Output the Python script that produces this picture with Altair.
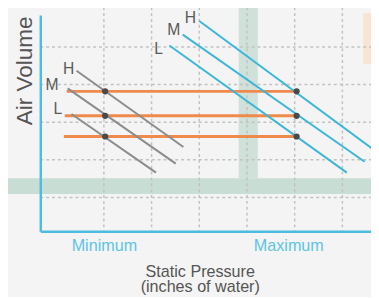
import altair as alt
import pandas as pd

# ---- data (x = static pressure units, y = air volume units)
curve_group = ["low", "low", "low", "high", "high", "high"]
curve_x1 = [0.57, 0.43, 0.49, 2.50, 2.24, 2.03]
curve_y1 = [4.27, 3.80, 3.12, 5.59, 5.23, 4.94]
curve_x2 = [2.25, 2.13, 1.82, 5.29, 5.10, 4.82]
curve_y2 = [2.24, 1.80, 1.56, 2.11, 1.85, 1.56]

level_y = [3.72, 3.07, 2.52]
level_x_start = [0.415, 0.385, 0.37]
level_x_end = [4.03, 4.03, 4.03]

point_x = [1.02, 1.02, 1.02, 4.03, 4.03, 4.03]
point_y = [3.72, 3.07, 2.52, 3.72, 3.07, 2.52]

speed_labels = ["H", "M", "L", "H", "M", "L"]
label_x = [0.446, 0.185, 0.277, 2.36, 2.10, 1.86]
label_y = [4.32, 3.88, 3.25, 5.67, 5.36, 4.84]

tick_values = [1.0, 3.9]
tick_labels = ["Minimum", "Maximum"]

grid_x = [1.0, 1.75, 2.5, 3.25, 4.0, 4.75]
grid_y = [0.9, 1.9, 2.9, 3.9, 4.9]

# decorative background bands
band_x1 = [-0.7, 3.12, -0.7, 5.08]
band_x2 = [5.4, 3.42, -0.58, 5.4]
band_y1 = [0.99, 1.41, 1.41, 4.45]
band_y2 = [1.41, 6.4, 6.4, 5.8]
band_color = ["#c8ddd3", "#cfe1d9", "#dbe8e2", "#f9e3d3"]

curves = pd.DataFrame({"g": curve_group, "x": curve_x1, "y": curve_y1, "x2": curve_x2, "y2": curve_y2})
levels = pd.DataFrame({"y": level_y, "x": level_x_start, "x2": level_x_end})
points = pd.DataFrame({"x": point_x, "y": point_y})
labels = pd.DataFrame({"t": speed_labels, "x": label_x, "y": label_y})
gx = pd.DataFrame({"x": grid_x})
gy = pd.DataFrame({"y": grid_y})
bands = pd.DataFrame({"x": band_x1, "x2": band_x2, "y": band_y1, "y2": band_y2, "c": band_color})

AXIS_BLUE = "#4dbce0"
label_expr = f"datum.value < 2 ? '{tick_labels[0]}' : '{tick_labels[1]}'"

x_axis = alt.Axis(
    values=tick_values, labelExpr=label_expr, ticks=False, tickSize=0, grid=False,
    domainColor=AXIS_BLUE, domainWidth=2.5, labelFont="Liberation Sans", labelFontSize=16.5,
    labelColor="#5ec4e6", labelPadding=7, labelFlush=False,
    titleFont="Liberation Sans", titleFontSize=16.5, titleFontWeight="normal",
    titleColor="#555555", titleLineHeight=16, titleX=163, titleY=46,
    titleBaseline="alphabetic", titleAlign="center", zindex=1,
)
y_axis = alt.Axis(
    ticks=False, tickSize=0, labels=False, grid=False, domainColor=AXIS_BLUE, domainWidth=2.5,
    titleFont="Liberation Sans", titleFontSize=23, titleFontWeight="normal", titleColor="#555555",
    titleAngle=270, titleAlign="right", titleBaseline="middle", titleX=-16, titleY=1, zindex=1,
)
xs = alt.Scale(domain=[0, 5.2], nice=False, zero=False)
ys = alt.Scale(domain=[0, 5.75], nice=False, zero=False)
XT = ["Static Pressure", "(inches of water)"]
YT = "Air Volume"


def X(f):
    return alt.X(f, type="quantitative", scale=xs, axis=x_axis, title=XT)


def Y(f):
    return alt.Y(f, type="quantitative", scale=ys, axis=y_axis, title=YT)


band_layer = alt.Chart(bands).mark_rect().encode(
    x=X("x"), x2="x2", y=Y("y"), y2="y2", color=alt.Color("c:N", scale=None)
)
vgrid = alt.Chart(gx).mark_rule(color="#c2c2c2", strokeDash=[3, 3], strokeWidth=1.5).encode(
    x=X("x"), y=alt.value(-20), y2=alt.value(221)
)
hgrid = alt.Chart(gy).mark_rule(color="#c2c2c2", strokeDash=[3, 3], strokeWidth=1.5).encode(
    y=Y("y"), x=alt.value(0), x2=alt.value(345)
)
level_layer = alt.Chart(levels).mark_rule(color="#f08a4c", strokeWidth=3).encode(
    x=X("x"), x2="x2", y=Y("y")
)
curve_layer = alt.Chart(curves).mark_rule(strokeWidth=2).encode(
    x=X("x"), x2="x2", y=Y("y"), y2="y2",
    color=alt.Color("g:N", scale=alt.Scale(domain=["low", "high"], range=["#8c8c8c", "#3cb7da"]), legend=None),
)
point_layer = alt.Chart(points).mark_circle(size=40, opacity=1, color="#4a4a4a").encode(
    x=X("x"), y=Y("y")
)
label_layer = alt.Chart(labels).mark_text(
    font="Liberation Sans", fontSize=16, color="#5a5a5a", align="center", baseline="middle"
).encode(x=X("x"), y=Y("y"), text="t:N")

chart = alt.layer(
    band_layer, vgrid, hgrid, level_layer, curve_layer, point_layer, label_layer
).properties(
    width=338, height=221,
    autosize=alt.AutoSizeParams(type="none"),
    padding={"left": 33, "top": 4, "right": 0, "bottom": 64},
).configure(background="#f3f4f3").configure_view(stroke=None)

chart.save("out.html", embed_options={"renderer": "svg", "actions": False})
